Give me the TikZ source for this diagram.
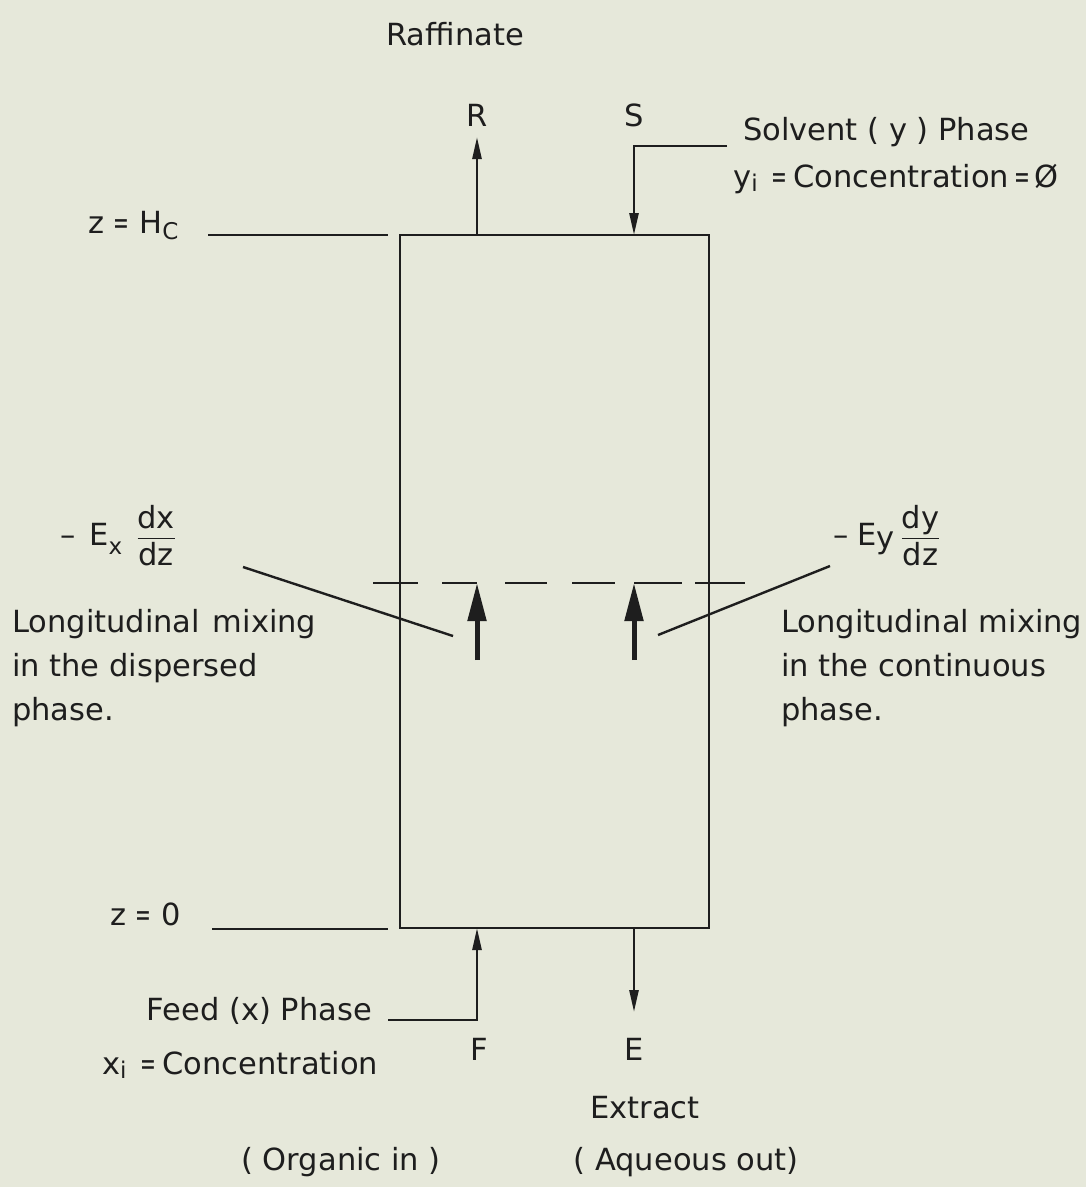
\documentclass[tikz,border=0pt]{standalone}
\usepackage{amsmath}
\usepackage{fontspec}
\setmainfont{DejaVu Sans}
\usetikzlibrary{arrows.meta}
\definecolor{paper}{HTML}{E6E8DA}
\definecolor{ink}{HTML}{1E1E1E}
\tikzset{
  txt/.style={font=\fontsize{30.5}{37}\selectfont, text=ink, inner sep=0pt},
  wall/.style={draw=ink, line width=2.6pt},
  level/.style={draw=ink, line width=2.6pt},
  flow/.style={draw=ink, line width=2.6pt, -{Triangle[length=22pt,width=9pt]}},
  mixarrow/.style={draw=ink, line width=5pt, -{Triangle[length=38pt,width=18pt]}},
  plane/.style={draw=ink, line width=2.6pt},
  leader/.style={draw=ink, line width=2.4pt},
}
\newcommand{\subsm}[2]{\raisebox{#1}{\fontsize{23}{23}\selectfont #2}}
\newcommand{\eqn}{\scalebox{0.62}[1]{=}}
\begin{document}
\begin{tikzpicture}[x=1pt,y=-1pt]
\fill[paper] (0,0) rectangle (1086,1187);
\useasboundingbox (0,0) rectangle (1086,1187);

% column
\node[wall, minimum width=309pt, minimum height=693pt, inner sep=0pt, fill=none] (col) at (554.5,581.5) {};
\coordinate (topR) at (477,235);
\coordinate (topS) at (634,235);
\coordinate (botF) at (477,928);
\coordinate (botE) at (634,928);

% level lines
\coordinate (hcA) at (208,235);
\coordinate (hcB) at (388,235);
\draw[level] (hcA) -- (hcB);
\coordinate (z0A) at (212,929);
\coordinate (z0B) at (388,929);
\draw[level] (z0A) -- (z0B);

% top streams
\coordinate (Rend) at (477,137);
\draw[flow] (topR) -- (Rend);
\coordinate (Sbend) at (634,146);
\coordinate (Sfree) at (727,146);
\draw[flow] (Sfree) -- (Sbend) -- (topS);

% bottom streams
\coordinate (Fbend) at (477,1020);
\coordinate (Ffree) at (388,1020);
\draw[flow] (Ffree) -- (Fbend) -- (botF);
\coordinate (Eend) at (634,1012);
\draw[flow] (botE) -- (Eend);

% dashed plane
\foreach \a/\b in {373/418,442/477,505/547,572/615,634/682,695/745}
  \draw[plane] (\a,583) -- (\b,583);

% mixing arrows
\coordinate (mLtail) at (477,660);
\coordinate (mLtip) at (477,583);
\coordinate (mRtail) at (634,660);
\coordinate (mRtip) at (634,583);
\draw[mixarrow] (mLtail) -- (mLtip);
\draw[mixarrow] (mRtail) -- (mRtip);

% leaders
\coordinate (lA) at (243,567);
\coordinate (lB) at (453,636);
\coordinate (rA) at (830,566);
\coordinate (rB) at (658,635);
\draw[leader] (lA) -- (lB);
\draw[leader] (rA) -- (rB);

% texts
\node[txt, anchor=base] (raff) at (455,45) {Raffinate};
\node[txt, anchor=base] (Rl) at (477,126) {R};
\node[txt, anchor=base] (Sl) at (634,126) {S};
\node[txt, anchor=base west] (solv) at (743,140) {Solvent ( y ) Phase};
\node[txt, anchor=base west] (yi) at (733,187) {y\subsm{-0.15em}{i}\hspace{14pt}\eqn\hspace{6pt}Concentration\hspace{5pt}\eqn\hspace{4pt}Ø};
\node[txt, anchor=base west] (zhc) at (88,233) {z \eqn\ H\subsm{-0.2em}{C}};
\node[txt, anchor=base west] (exl) at (60,545) {–\hspace{14pt}E\subsm{-0.3em}{x}\hspace{14pt}$\dfrac{\text{dx}}{\text{dz}}$};
\node[txt, anchor=base west] (eyl) at (833,545) {–\hspace{9pt}E\raisebox{-0.1em}{y}\hspace{6pt}$\dfrac{\text{dy}}{\text{dz}}$};
\node[txt, anchor=base west] (l1) at (12,632) {Longitudinal\hspace{3pt} mixing};
\node[txt, anchor=base west] (l2) at (12,676) {in the dispersed};
\node[txt, anchor=base west] (l3) at (12,720) {phase.};
\node[txt, anchor=base west] (r1) at (781,632) {Longitudinal mixing};
\node[txt, anchor=base west] (r2) at (781,676) {in the continuous};
\node[txt, anchor=base west] (r3) at (781,720) {phase.};
\node[txt, anchor=base west] (z0) at (110,925) {z \eqn\ 0};
\node[txt, anchor=base east] (feed) at (372,1020) {Feed (x) Phase};
\node[txt, anchor=base west] (xi) at (102,1074) {x\subsm{-0.15em}{i}\hspace{14pt}\eqn\hspace{6pt}Concentration};
\node[txt, anchor=base] (Fl) at (479,1060) {F};
\node[txt, anchor=base] (El) at (634,1060) {E};
\node[txt, anchor=base] (extr) at (645,1118) {Extract};
\node[txt, anchor=base] (org) at (341,1170) {( Organic in )};
\node[txt, anchor=base] (aq) at (686,1170) {( Aqueous out)};
\end{tikzpicture}
\end{document}
